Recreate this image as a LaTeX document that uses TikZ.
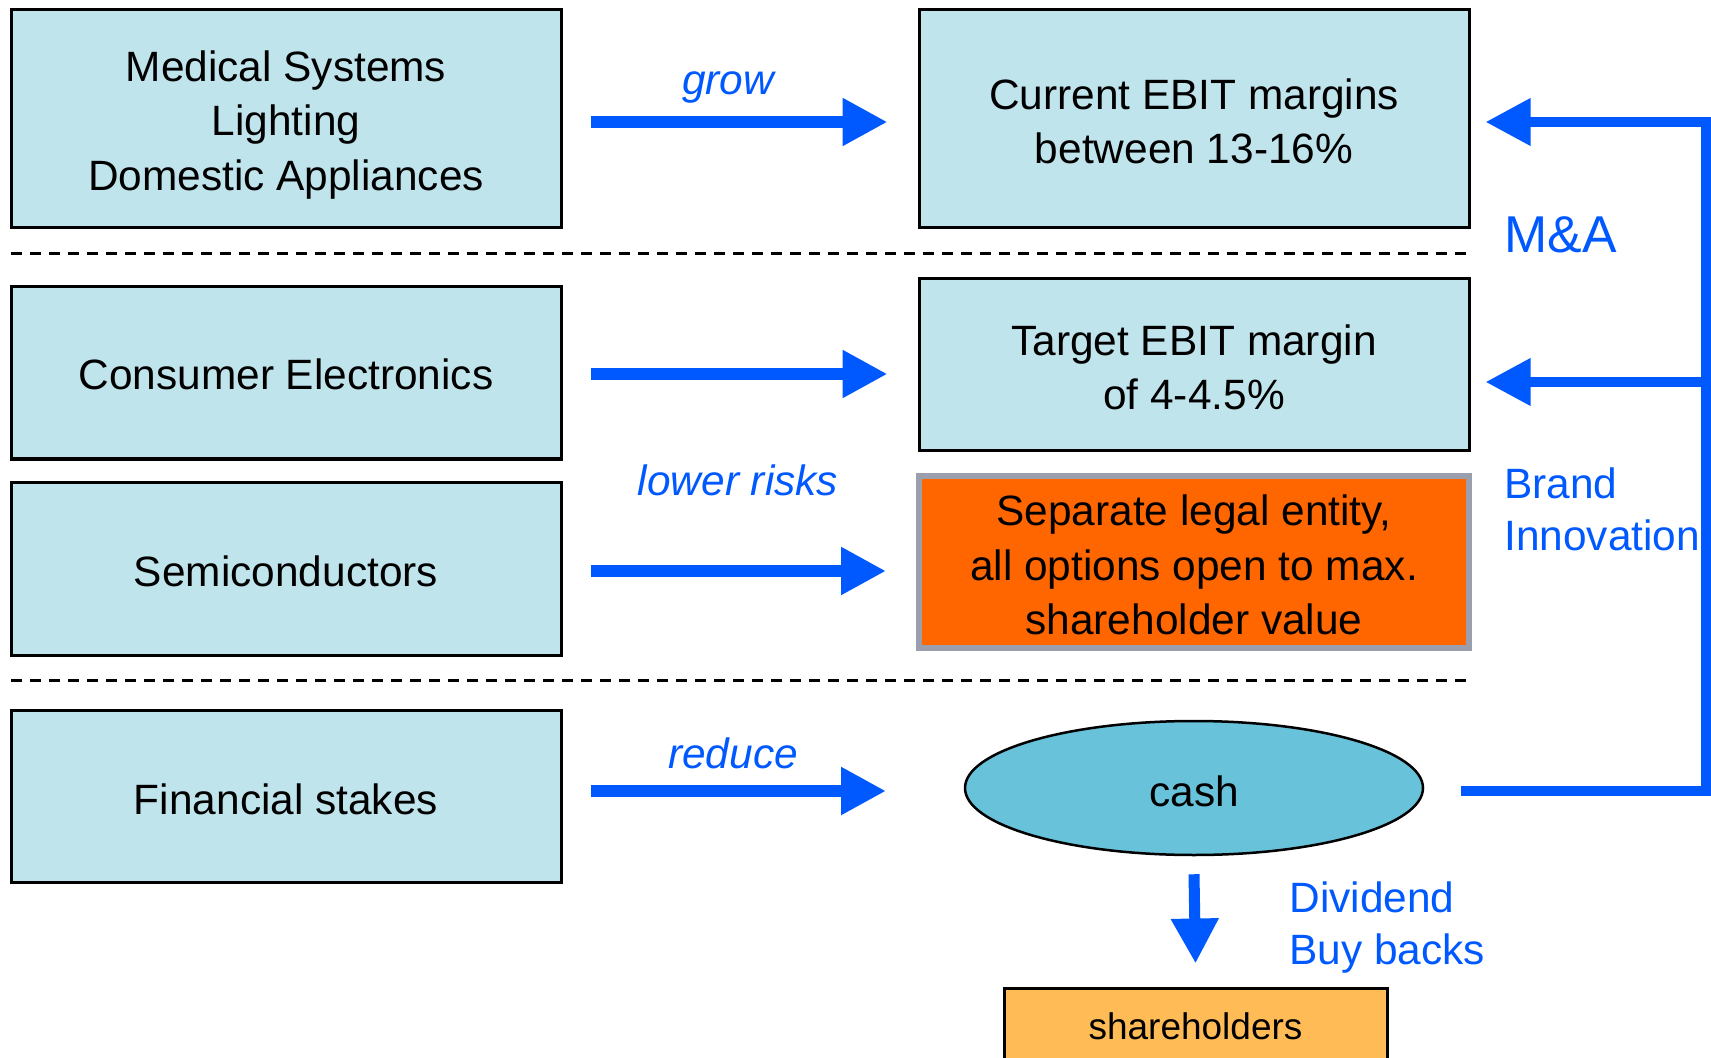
\documentclass[tikz,border=0pt]{standalone}
\usepackage{fontspec}
\setmainfont{Liberation Sans}
\usetikzlibrary{arrows.meta,calc,shapes.geometric}
\definecolor{boxblue}{RGB}{192,228,236}
\definecolor{cashblue}{RGB}{104,194,218}
\definecolor{sepor}{RGB}{255,102,0}
\definecolor{sepgray}{RGB}{155,158,172}
\definecolor{shor}{RGB}{255,187,85}
\definecolor{abl}{RGB}{0,89,255}
\tikzset{
  boxtext/.style={font=\fontsize{21.2pt}{27.3pt}\selectfont, align=center, inner sep=0pt},
  unitbox/.style={rectangle, draw=black, line width=1.5pt, fill=boxblue,
    inner sep=0pt, minimum width=275pt},
  intext/.style 2 args={label={[boxtext, yshift=-#1]center:{#2}}},
  bigarrow/.style={draw=abl, line width=6pt, -{Triangle[length=22.5pt,width=22.5pt]}},
  loopline/.style={draw=abl, line width=5pt, line join=miter},
  looparrow/.style={loopline, -{Triangle[length=22.5pt,width=22.5pt]}},
  divider/.style={draw=black, line width=1.5pt, dash pattern=on 5.5pt off 4pt},
  bluelabel/.style={text=abl, font=\fontsize{21.2pt}{26pt}\selectfont, inner sep=0pt},
  arrowlabel/.style={bluelabel, font=\fontsize{21.2pt}{26pt}\selectfont\itshape},
}
\begin{document}
\begin{tikzpicture}[x=0.5pt,y=-0.5pt]
\useasboundingbox (0,0) rectangle (1711,1058);
\clip (0,0) rectangle (1711,1058);
\fill[white] (0,0) rectangle (1711,1058);

% left column
\node[unitbox, minimum height=109pt, intext={3pt}{Medical Systems\\Lighting\\Domestic Appliances}] (med) at (286,119) {};
\node[unitbox, minimum height=86pt, intext={0.6pt}{Consumer Electronics}] (ce) at (286,373) {};
\node[unitbox, minimum height=86.5pt, intext={1.6pt}{Semiconductors}] (semi) at (286,568.5) {};
\node[unitbox, minimum height=86pt, intext={1.6pt}{Financial stakes}] (fin) at (286,796) {};

% right column
\node[unitbox, minimum height=109pt, intext={1.2pt}{Current EBIT margins\\between 13-16\%}] (cur) at (1194,119) {};
\node[unitbox, minimum height=86pt, intext={1.2pt}{Target EBIT margin\\of 4-4.5\%}] (tgt) at (1194,365) {};
\node[rectangle, draw=sepgray, line width=3pt, fill=sepor, inner sep=0pt,
      minimum width=275pt, minimum height=86pt,
      intext={1.5pt}{Separate legal entity,\\all options open to max.\\shareholder value}] (sep) at (1194,562) {};
\node[ellipse, draw=black, line width=1.25pt, fill=cashblue, inner sep=0pt,
      minimum width=229pt, minimum height=67pt, intext={1.6pt}{cash}] (cash) at (1194,788) {};
\node[rectangle, draw=black, line width=1.5pt, fill=shor, inner sep=0pt,
      minimum width=191.5pt, minimum height=38pt,
      label={[inner sep=0pt, font=\fontsize{18.5pt}{22pt}\selectfont]center:shareholders}] (sh) at (1195.5,1026) {};

% dividers
\coordinate (d1a) at (11,254);
\coordinate (d1b) at (1469,254);
\coordinate (d2a) at (11,680);
\coordinate (d2b) at (1469,680);
\draw[divider] (d1a) -- (d1b);
\draw[divider] (d2a) -- (d2b);

% horizontal arrows
\draw[bigarrow] ($(med.east)+(28,3)$) -- ($(med.east -| cur.west)+(-30,3)$);
\draw[bigarrow] ($(ce.east)+(28,1)$) -- ($(ce.east -| tgt.west)+(-30,1)$);
\draw[bigarrow] ($(semi.east)+(28,2.5)$) -- ($(semi.east -| sep.west)+(-30,2.5)$);
\draw[bigarrow] ($(fin.east)+(28,-5)$) -- ($(fin.east -| sep.west)+(-30,-5)$);

% arrow labels
\node[arrowlabel] (lgrow) at (728,87) {grow};
\node[arrowlabel] (llow) at (738,480) {lower risks};
\node[arrowlabel] (lred) at (733,753) {reduce};

% loop back from cash
\coordinate (lstart) at ($(cash.east)+(37,3)$);
\coordinate (cornerB) at (1706,791);
\coordinate (cornerT) at (1706,122);
\coordinate (tipcur) at ($(cur.east)+(15,3)$);
\coordinate (branch) at (1706,382);
\coordinate (tiptgt) at ($(tgt.east |- branch)+(15,0)$);
\draw[looparrow] (lstart) -- (cornerB) -- (cornerT) -- (tipcur);
\draw[looparrow] (branch) -- (tiptgt);

\node[bluelabel, anchor=west, font=\fontsize{25.9pt}{30pt}\selectfont] (ma) at (1504,235) {M\&A};
\node[bluelabel, anchor=west, align=left] (brand) at (1504,509.5) {Brand\\Innovation};

% dividend arrow
\draw[bigarrow, line width=5.5pt] ($(cash.south)+(0,18)$) -- ($(sh.north)+(0,-23)$);
\node[bluelabel, anchor=west, align=left, font=\fontsize{21.2pt}{25.6pt}\selectfont] (div) at (1289,927.5) {Dividend\\Buy backs};
\end{tikzpicture}
\end{document}
